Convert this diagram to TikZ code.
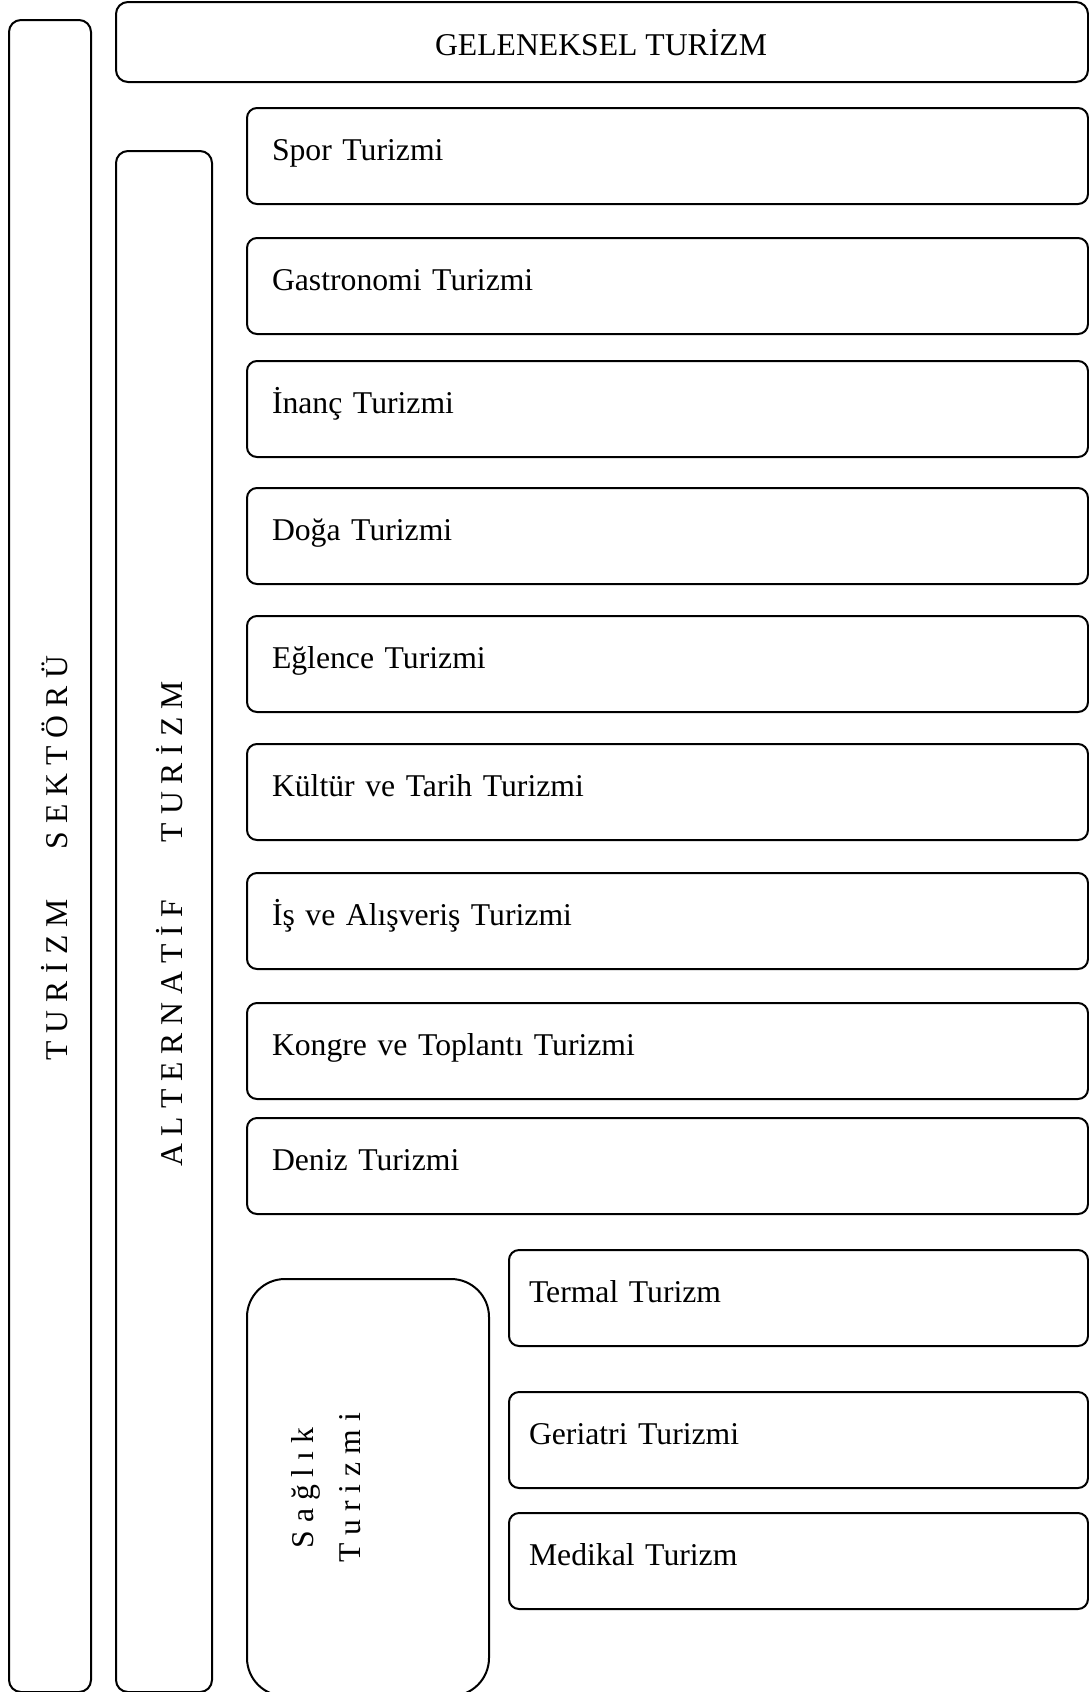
\documentclass[tikz,border=0pt]{standalone}
\usepackage{fontspec}
\setmainfont{Liberation Serif}

\begin{document}
\begin{tikzpicture}[x=0.5pt,y=-0.5pt,
      font=\fontsize{15.85}{19}\selectfont,
      frame/.style={draw,line width=1pt,rounded corners=6pt,anchor=north west,inner sep=0pt},
      item/.style={frame,rounded corners=5pt,minimum height=48pt,text width=395.5pt,inner xsep=12.5pt,
        align=left,text height=0.683em,text depth=0.217em},
      subitem/.style={item,text width=269.5pt,inner xsep=10pt},
      vlabel/.style={rotate=90,anchor=base}]
      \useasboundingbox (0,0) rectangle (1088,1692);
      % outer frames
      \node[frame,minimum width=41pt,minimum height=836pt] (sector) at (8,19) {};
      \node[frame,minimum width=486pt,minimum height=40pt] (gel) at (115,1) {};
      \node[frame,minimum width=48pt,minimum height=770.5pt] (alt) at (115,150) {};
      \node[anchor=base] (geltext) at (601,55) {GELENEKSEL TURİZM};
      \node[vlabel] (sectortext) at (68,858) {T U R İ Z M\hspace{25pt}S E K T Ö R Ü};
      \node[vlabel] (alttext) at (182,924) {A L T E R N A T İ F\hspace{29pt}T U R İ Z M};
      % alternative tourism types
      \node[item] (spor) at (246,107) {Spor Turizmi};
      \node[item] (gastro) at (246,237) {Gastronomi Turizmi};
      \node[item] (inanc) at (246,360) {İnanç Turizmi};
      \node[item] (doga) at (246,487) {Doğa Turizmi};
      \node[item] (eglence) at (246,615) {Eğlence Turizmi};
      \node[item] (kultur) at (246,743) {Kültür ve Tarih Turizmi};
      \node[item] (isalis) at (246,872) {İş ve Alışveriş Turizmi};
      \node[item] (kongre) at (246,1002) {Kongre ve Toplantı Turizmi};
      \node[item] (deniz) at (246,1117) {Deniz Turizmi};
      % health tourism
      \node[frame,rounded corners=19pt,minimum width=121pt,minimum height=208.5pt] (saglik) at (246,1278) {};
      \node[rotate=90,align=center,font=\fontsize{15.85}{23.5}\selectfont] (sagliktext) at (326,1488)
        {S a ğ l ı k\\T u r i z m i};
      \node[subitem] (termal) at (508,1249) {Termal Turizm};
      \node[subitem] (geriatri) at (508,1391) {Geriatri Turizmi};
      \node[subitem] (medikal) at (508,1512) {Medikal Turizm};
    \end{tikzpicture}
\end{document}
